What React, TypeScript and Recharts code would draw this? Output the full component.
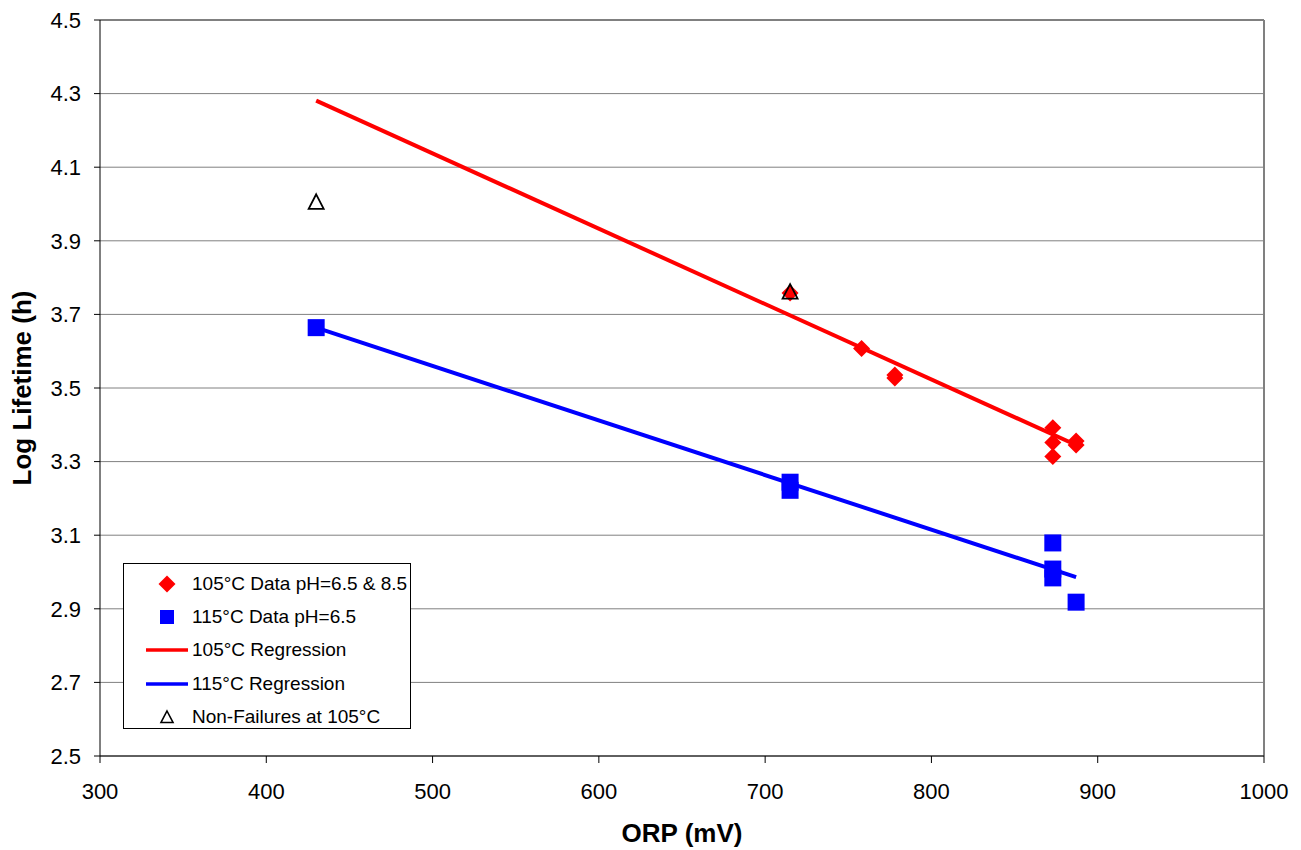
import {
  CartesianGrid,
  Label,
  Legend,
  ReferenceLine,
  Scatter,
  ScatterChart,
  XAxis,
  YAxis,
} from "recharts";

const data105X = [715, 758, 778, 778, 873, 873, 873, 887, 887];
const data105Y = [3.758, 3.607, 3.535, 3.527, 3.392, 3.352, 3.314, 3.356, 3.345];

const data115X = [430, 715, 715, 873, 873, 873, 887];
const data115Y = [3.664, 3.244, 3.222, 3.079, 3.008, 2.984, 2.918];

const reg105X = [430, 887];
const reg105Y = [4.281, 3.345];

const reg115X = [430, 887];
const reg115Y = [3.664, 2.986];

const nonFailX = [430, 715];
const nonFailY = [4.006, 3.762];

const xTicks = [300, 400, 500, 600, 700, 800, 900, 1000];
const yTicks = [2.5, 2.7, 2.9, 3.1, 3.3, 3.5, 3.7, 3.9, 4.1, 4.3, 4.5];

const legendItems = [
  { label: "105°C Data pH=6.5 & 8.5", kind: "diamond", color: "#ff0000" },
  { label: "115°C Data pH=6.5", kind: "square", color: "#0000ff" },
  { label: "105°C Regression", kind: "line", color: "#ff0000" },
  { label: "115°C Regression", kind: "line", color: "#0000ff" },
  { label: "Non-Failures at 105°C", kind: "triangle", color: "#000000" },
];

const zip = (xs: number[], ys: number[]) => xs.map((x, i) => ({ x, y: ys[i] }));

const FONT = "'Liberation Sans', Arial, sans-serif";

function Diamond({ cx, cy }: { cx?: number; cy?: number }) {
  if (cx == null || cy == null) return null;
  const r = 8.5;
  return (
    <path
      d={`M${cx},${cy - r}L${cx + r},${cy}L${cx},${cy + r}L${cx - r},${cy}Z`}
      fill="#ff0000"
    />
  );
}

function Square({ cx, cy }: { cx?: number; cy?: number }) {
  if (cx == null || cy == null) return null;
  return <rect x={cx - 8.5} y={cy - 8.5} width={17} height={17} fill="#0000ff" />;
}

function Triangle({ cx, cy }: { cx?: number; cy?: number }) {
  if (cx == null || cy == null) return null;
  return (
    <path
      d={`M${cx},${cy - 7.5}L${cx + 7.5},${cy + 7}L${cx - 7.5},${cy + 7}Z`}
      fill="none"
      stroke="#000"
      strokeWidth={1.8}
    />
  );
}

const NoDot = () => <g />;

function LegendBox() {
  return (
    <div
      style={{
        width: 288,
        height: 166,
        border: "1px solid #000",
        background: "#fff",
        fontFamily: FONT,
        fontSize: 19,
        color: "#000",
        boxSizing: "border-box",
        paddingTop: 3,
      }}
    >
      {legendItems.map((it) => (
        <div key={it.label} style={{ display: "flex", alignItems: "center", height: 33.4 }}>
          <svg width={68} height={20} style={{ flex: "none" }}>
            {it.kind === "diamond" && <Diamond cx={43} cy={10} />}
            {it.kind === "square" && (
              <rect x={36} y={3} width={14} height={14} fill={it.color} />
            )}
            {it.kind === "line" && (
              <line x1={22} y1={10} x2={64} y2={10} stroke={it.color} strokeWidth={3.5} />
            )}
            {it.kind === "triangle" && (
              <path d="M43,4L49,15.5L37,15.5Z" fill="none" stroke="#000" strokeWidth={1.6} />
            )}
          </svg>
          <span style={{ whiteSpace: "nowrap" }}>{it.label}</span>
        </div>
      ))}
    </div>
  );
}

export default function App() {
  return (
    <div style={{ position: "absolute", left: 0, top: 0, background: "#fff" }}>
      <ScatterChart
        width={1301}
        height={850}
        margin={{ top: 20, right: 37, left: 8, bottom: 0 }}
      >
        <CartesianGrid vertical={false} stroke="#808080" strokeWidth={1} />
        <XAxis
          type="number"
          dataKey="x"
          domain={[300, 1000]}
          ticks={xTicks}
          height={94}
          tickSize={7}
          tickMargin={20}
          axisLine={{ stroke: "#000" }}
          tickLine={{ stroke: "#000" }}
          tick={{ fill: "#000", fontSize: 22, fontFamily: FONT }}
        >
          <Label
            value="ORP (mV)"
            position="insideBottom"
            offset={8}
            style={{ fontFamily: FONT, fontSize: 26, fontWeight: "bold", fill: "#000" }}
          />
        </XAxis>
        <YAxis
          type="number"
          dataKey="y"
          domain={[2.5, 4.5]}
          ticks={yTicks}
          width={92}
          tickSize={6}
          tickMargin={13}
          tickFormatter={(v: number) => v.toFixed(1)}
          axisLine={{ stroke: "#000" }}
          tickLine={{ stroke: "#000" }}
          tick={{ fill: "#000", fontSize: 22, fontFamily: FONT }}
        >
          <Label
            value="Log Lifetime (h)"
            angle={-90}
            position="insideLeft"
            offset={14}
            style={{
              fontFamily: FONT,
              fontSize: 26,
              fontWeight: "bold",
              fill: "#000",
              textAnchor: "middle",
            }}
          />
        </YAxis>
        <ReferenceLine x={1000} stroke="#808080" strokeWidth={2} />
        <ReferenceLine y={4.5} stroke="#808080" strokeWidth={2} />
        <Legend
          layout="vertical"
          align="center"
          verticalAlign="middle"
          wrapperStyle={{ left: 123, top: 563, width: 290 }}
          content={() => <LegendBox />}
        />
        <Scatter
          name="105°C Regression"
          data={zip(reg105X, reg105Y)}
          line={{ stroke: "#ff0000", strokeWidth: 4 }}
          lineType="joint"
          shape={NoDot}
          isAnimationActive={false}
        />
        <Scatter
          name="115°C Regression"
          data={zip(reg115X, reg115Y)}
          line={{ stroke: "#0000ff", strokeWidth: 4 }}
          lineType="joint"
          shape={NoDot}
          isAnimationActive={false}
        />
        <Scatter
          name="105°C Data pH=6.5 & 8.5"
          data={zip(data105X, data105Y)}
          shape={Diamond}
          isAnimationActive={false}
        />
        <Scatter
          name="115°C Data pH=6.5"
          data={zip(data115X, data115Y)}
          shape={Square}
          isAnimationActive={false}
        />
        <Scatter
          name="Non-Failures at 105°C"
          data={zip(nonFailX, nonFailY)}
          shape={Triangle}
          isAnimationActive={false}
        />
      </ScatterChart>
    </div>
  );
}
